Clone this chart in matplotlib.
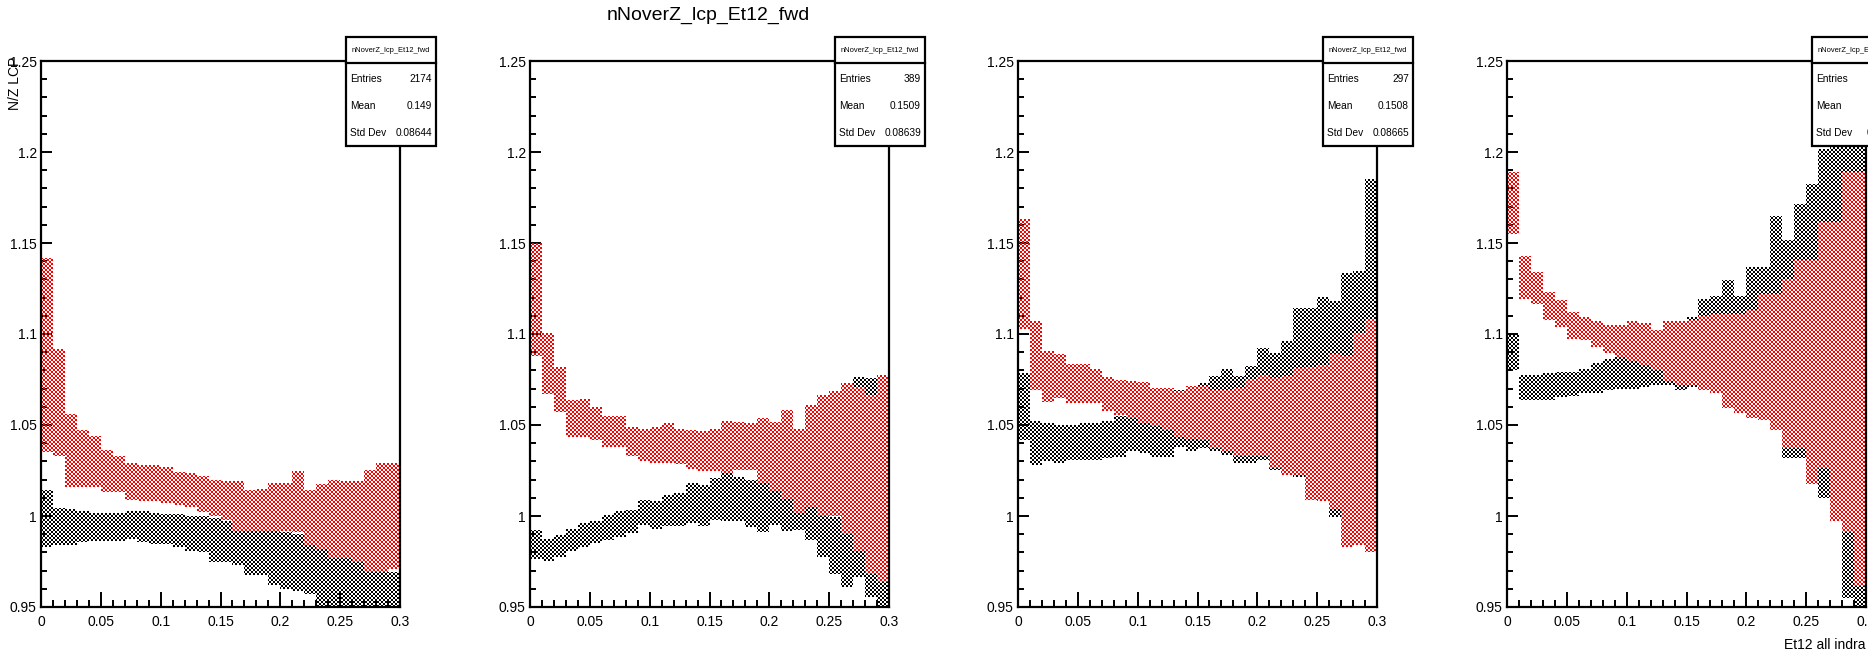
import numpy as np
import matplotlib
matplotlib.use("Agg")
import matplotlib.pyplot as plt
from matplotlib.colors import to_rgb
from matplotlib.patches import Rectangle
from matplotlib.lines import Line2D
from matplotlib.ticker import MultipleLocator

plt.rcParams['font.family'] = ['Liberation Sans', 'DejaVu Sans']

# Et12 bins: 30 bins of width 0.01
edges = np.round(np.arange(31) * 0.01, 2)

# N/Z error bands per bin (low / high edge), black and red sets, one per pad
black_hi_1 = [1.0145, 1.0045, 1.0036, 1.0027, 1.0018, 1.0018, 1.0018, 1.003, 1.0027, 1.0018,
              1.001, 1.001, 1.000, 1.000, 0.999, 0.997, 0.996, 0.9945, 0.993, 0.992,
              0.991, 0.990, 0.989, 0.983, 0.982, 0.980, 0.9765, 0.9755, 0.973, 0.969]
black_lo_1 = [0.983, 0.984, 0.984, 0.9855, 0.986, 0.9865, 0.9865, 0.9875, 0.9855, 0.9845,
              0.9845, 0.983, 0.981, 0.980, 0.975, 0.975, 0.973, 0.9675, 0.9675, 0.962,
              0.960, 0.959, 0.957, 0.94, 0.94, 0.94, 0.94, 0.94, 0.94, 0.94]
red_hi_1 = [1.142, 1.092, 1.056, 1.047, 1.044, 1.036, 1.033, 1.029, 1.028, 1.028,
            1.027, 1.024, 1.0235, 1.022, 1.020, 1.019, 1.019, 1.0145, 1.015, 1.018,
            1.018, 1.025, 1.0145, 1.0175, 1.020, 1.019, 1.019, 1.0255, 1.029, 1.029]
red_lo_1 = [1.035, 1.033, 1.016, 1.016, 1.016, 1.013, 1.013, 1.009, 1.008, 1.008,
            1.007, 1.006, 1.005, 1.002, 1.000, 0.998, 0.992, 0.992, 0.992, 0.992,
            0.992, 0.991, 0.984, 0.982, 0.977, 0.977, 0.975, 0.969, 0.969, 0.971]

black_hi_2 = [0.9925, 0.9875, 0.9895, 0.993, 0.996, 0.997, 1.0005, 1.0025, 1.0035, 1.009,
              1.008, 1.0115, 1.0125, 1.018, 1.017, 1.021, 1.024, 1.0215, 1.020, 1.019,
              1.015, 1.014, 1.007, 1.005, 1.003, 0.9995, 0.998, 1.0765, 1.076, 1.060]
black_lo_2 = [0.9765, 0.9755, 0.9775, 0.981, 0.983, 0.985, 0.987, 0.9885, 0.9905, 0.995,
              0.993, 0.9945, 0.9945, 0.996, 0.9945, 0.998, 0.997, 0.997, 0.994, 0.991,
              0.995, 0.992, 0.9925, 0.987, 0.9775, 0.968, 0.961, 0.9665, 0.9555, 0.94]
red_hi_2 = [1.150, 1.1005, 1.082, 1.064, 1.0645, 1.060, 1.055, 1.055, 1.049, 1.048,
            1.049, 1.051, 1.048, 1.047, 1.0465, 1.048, 1.052, 1.0515, 1.051, 1.054,
            1.0515, 1.058, 1.048, 1.061, 1.0665, 1.0685, 1.073, 1.071, 1.0665, 1.0775]
red_lo_2 = [1.088, 1.067, 1.057, 1.0435, 1.0435, 1.042, 1.038, 1.038, 1.033, 1.030,
            1.029, 1.029, 1.0285, 1.026, 1.025, 1.0245, 1.0235, 1.0255, 1.0255, 1.018,
            1.0135, 1.0095, 1.0015, 1.005, 1.000, 1.000, 0.990, 0.981, 0.968, 0.9635]

black_hi_3 = [1.0785, 1.052, 1.051, 1.050, 1.050, 1.051, 1.051, 1.052, 1.055, 1.0555,
              1.054, 1.051, 1.049, 1.0695, 1.060, 1.073, 1.077, 1.0805, 1.077, 1.0825,
              1.0925, 1.0895, 1.096, 1.1145, 1.1145, 1.1205, 1.118, 1.1335, 1.1345, 1.185]
black_lo_3 = [1.042, 1.028, 1.030, 1.029, 1.0305, 1.031, 1.031, 1.032, 1.0325, 1.0355,
              1.0345, 1.0325, 1.0325, 1.038, 1.0355, 1.0375, 1.0355, 1.0335, 1.029, 1.029,
              1.031, 1.0255, 1.0245, 1.0215, 1.020, 1.0145, 0.9995, 1.007, 0.984, 1.000]
red_hi_3 = [1.163, 1.107, 1.0905, 1.089, 1.0835, 1.0835, 1.081, 1.0765, 1.075, 1.074,
            1.0735, 1.0705, 1.0705, 1.0685, 1.0715, 1.0715, 1.0695, 1.0695, 1.0705, 1.0755,
            1.0775, 1.076, 1.077, 1.0815, 1.082, 1.083, 1.089, 1.088, 1.1005, 1.108]
red_lo_3 = [1.1025, 1.0695, 1.0625, 1.065, 1.062, 1.062, 1.062, 1.0575, 1.0555, 1.054,
            1.051, 1.0495, 1.0475, 1.0435, 1.0425, 1.0415, 1.0375, 1.0355, 1.033, 1.033,
            1.033, 1.0265, 1.0225, 1.0225, 1.009, 1.008, 1.004, 0.983, 0.984, 0.980]

black_hi_4 = [1.1005, 1.0775, 1.0775, 1.0785, 1.079, 1.079, 1.081, 1.084, 1.0865, 1.0885,
              1.0865, 1.088, 1.0865, 1.087, 1.090, 1.1095, 1.1195, 1.121, 1.1295, 1.121,
              1.137, 1.137, 1.165, 1.1515, 1.1715, 1.1825, 1.2015, 1.206, 1.215, 1.215]
black_lo_4 = [1.080, 1.064, 1.064, 1.064, 1.0655, 1.066, 1.0675, 1.0675, 1.0695, 1.070,
              1.070, 1.071, 1.072, 1.072, 1.0695, 1.071, 1.0765, 1.086, 1.084, 1.082,
              1.078, 1.072, 1.050, 1.032, 1.032, 1.030, 1.010, 1.0125, 0.955, 0.94]
red_hi_4 = [1.189, 1.143, 1.134, 1.123, 1.1185, 1.112, 1.1095, 1.107, 1.105, 1.105,
            1.107, 1.106, 1.102, 1.107, 1.107, 1.1075, 1.110, 1.111, 1.111, 1.111,
            1.113, 1.122, 1.122, 1.130, 1.1405, 1.1405, 1.1615, 1.1615, 1.189, 1.189]
red_lo_4 = [1.155, 1.1195, 1.1165, 1.1075, 1.104, 1.0975, 1.0965, 1.093, 1.0895, 1.0875,
            1.085, 1.083, 1.080, 1.074, 1.072, 1.072, 1.0695, 1.0675, 1.0595, 1.0565,
            1.054, 1.053, 1.0475, 1.0375, 1.0375, 1.0175, 1.0265, 0.9975, 0.991, 0.9615]

black_bands = [(black_lo_1, black_hi_1), (black_lo_2, black_hi_2),
               (black_lo_3, black_hi_3), (black_lo_4, black_hi_4)]
red_bands = [(red_lo_1, red_hi_1), (red_lo_2, red_hi_2),
             (red_lo_3, red_hi_3), (red_lo_4, red_hi_4)]

hist_name = 'nNoverZ_lcp_Et12_fwd'
entries = ['2174', '389', '297', '160']
means = ['0.149', '0.1509', '0.1508', '0.1512']
std_devs = ['0.08644', '0.08639', '0.08665', '0.0864']

x_ticks = [0, 0.05, 0.1, 0.15, 0.2, 0.25, 0.3]
x_tick_labels = ['0', '0.05', '0.1', '0.15', '0.2', '0.25', '0.3']
y_ticks = [0.95, 1.0, 1.05, 1.1, 1.15, 1.2, 1.25]
y_tick_labels = ['0.95', '1', '1.05', '1.1', '1.15', '1.2', '1.25']
x_range = (0, 0.3)
y_range = (0.95, 1.25)

W, H = 1868, 657
fig = plt.figure(figsize=(W / 100, H / 100), dpi=100)

pad_lefts = [41, 530, 1018, 1507]
ax_w, ax_h, ax_b = 359, 546, 50


def checker(color):
    # ROOT-like 2px checkerboard fill pattern, one array pixel per screen pixel
    rr, cc = np.mgrid[0:ax_h, 0:ax_w]
    img = np.zeros((ax_h, ax_w, 4))
    img[..., :3] = to_rgb(color)
    img[..., 3] = ((rr // 2 + cc // 2) % 2 == 0)
    return img


def band(ax, lo, hi, color, z):
    step = ax.stairs(hi, edges, baseline=lo, fill=True,
                     facecolor='none', edgecolor='none')
    im = ax.imshow(checker(color), extent=(*x_range, *y_range), origin='upper',
                   aspect='auto', interpolation='nearest', zorder=z)
    im.set_clip_path(step)


def stats_box(ax, n, mean, std):
    tr = ax.transAxes
    x0, x1 = 1 - 54 / ax_w, 1 + 36 / ax_w
    y_top, y_bot, y_sep = 1 + 24 / ax_h, 1 - 85 / ax_h, 1 - 2 / ax_h
    ax.add_patch(Rectangle((x0, y_bot), x1 - x0, y_top - y_bot, transform=tr,
                           facecolor='white', edgecolor='black', lw=1.6,
                           clip_on=False, zorder=10))
    ax.add_line(Line2D([x0, x1], [y_sep, y_sep], transform=tr, color='black',
                       lw=1.6, clip_on=False, zorder=11))
    ax.text((x0 + x1) / 2, 1 + 11 / ax_h, hist_name, transform=tr, fontsize=5.4,
            ha='center', va='center', zorder=12, clip_on=False)
    rows = [('Entries', n), ('Mean', mean), ('Std Dev', std)]
    for k, (name, val) in enumerate(rows):
        yy = 1 - (18 + 27 * k) / ax_h
        ax.text(x0 + 4 / ax_w, yy, name, transform=tr, fontsize=7.3,
                ha='left', va='center', zorder=12)
        ax.text(x1 - 4 / ax_w, yy, val, transform=tr, fontsize=7.3,
                ha='right', va='center', zorder=12)


for i, left in enumerate(pad_lefts):
    ax = fig.add_axes([left / W, ax_b / H, ax_w / W, ax_h / H])
    band(ax, *black_bands[i], 'black', 1)
    band(ax, *red_bands[i], 'red', 2)

    ax.set_xlim(*x_range)
    ax.set_ylim(*y_range)
    ax.set_xticks(x_ticks)
    ax.set_xticklabels(x_tick_labels)
    ax.set_yticks(y_ticks)
    ax.set_yticklabels(y_tick_labels)
    ax.xaxis.set_minor_locator(MultipleLocator(0.01))
    ax.yaxis.set_minor_locator(MultipleLocator(0.01))
    ax.tick_params(which='both', direction='in', top=False, right=False,
                   width=1.4, labelsize=10)
    ax.tick_params(axis='x', which='major', length=11, pad=6)
    ax.tick_params(axis='x', which='minor', length=5)
    ax.tick_params(axis='y', which='major', length=8, pad=3)
    ax.tick_params(axis='y', which='minor', length=4)
    for sp in ax.spines.values():
        sp.set_linewidth(1.6)

    stats_box(ax, entries[i], means[i], std_devs[i])

fig.text(708 / W, 1 - 15 / H, hist_name, ha='center', va='center', fontsize=14)
fig.text(15 / W, 1 - 57 / H, 'N/Z LCP', rotation=90, ha='center', va='top', fontsize=10)
fig.text(1866 / W, 1 - 645 / H, 'Et12 all indra', ha='right', va='center', fontsize=10)

fig.savefig('out.png', dpi=100)
